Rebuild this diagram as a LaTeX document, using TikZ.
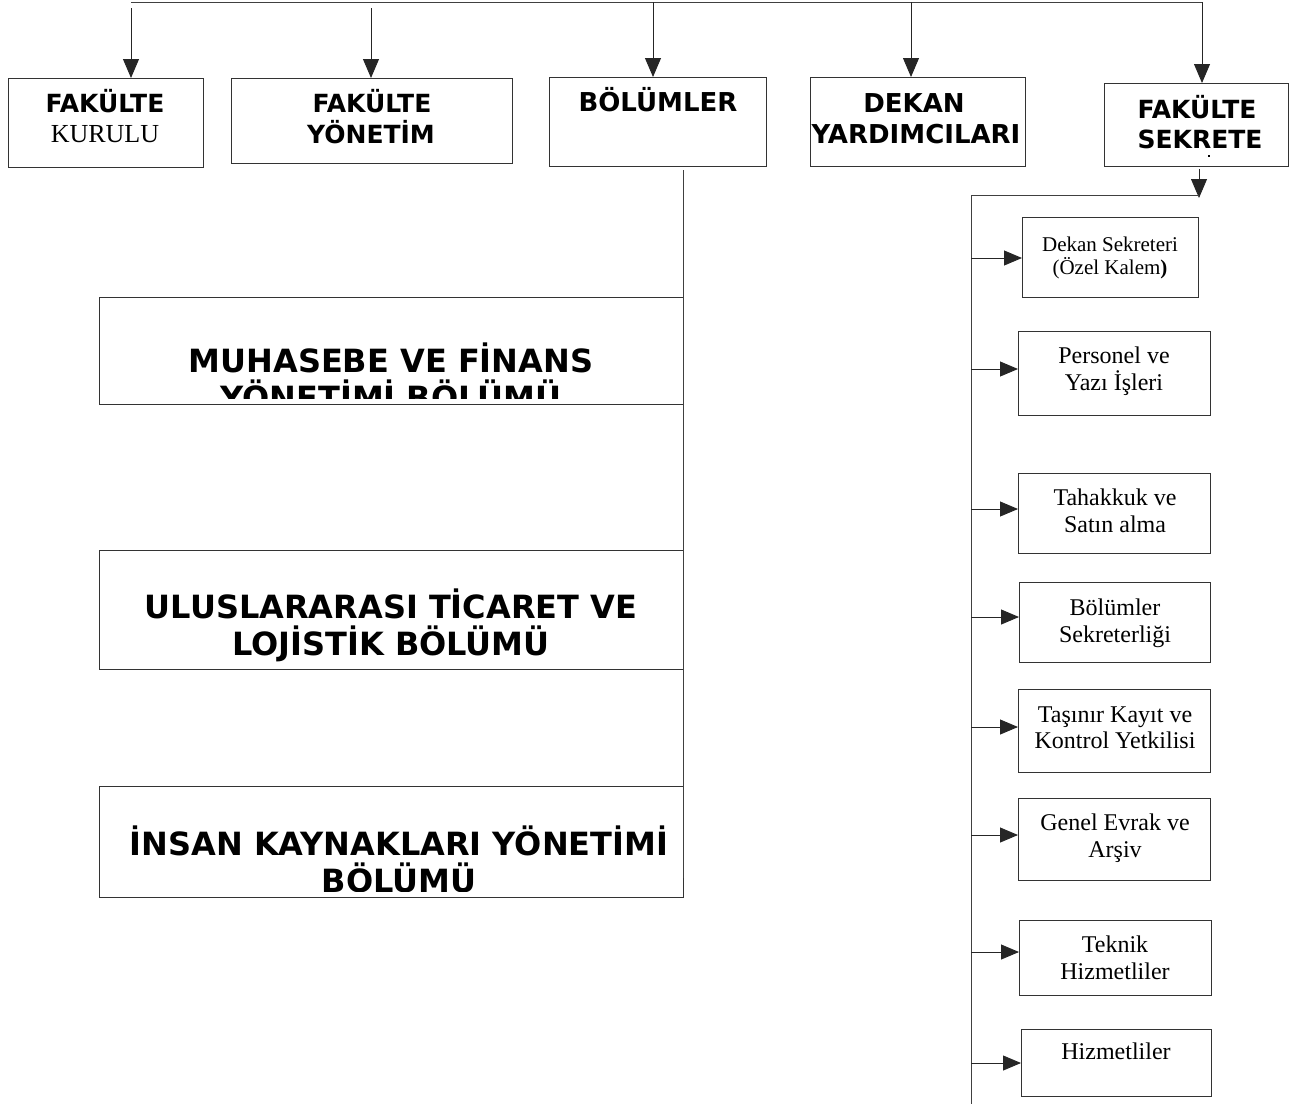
\documentclass[tikz,border=0pt]{standalone}
\usepackage{fontspec}
\setmainfont{Liberation Serif}
\newfontfamily\dvs{DejaVu Sans}
\usetikzlibrary{arrows.meta}
\begin{document}
\begin{tikzpicture}[x=1pt,y=-1pt,
  box/.style={draw=black!80, line width=1pt, inner sep=0pt, anchor=north west},
  arr/.style={draw=black!85, line width=0.9pt, -{Triangle[length=19pt,width=16pt]}},
  arrr/.style={draw=black!85, line width=0.9pt, -{Triangle[length=18pt,width=15pt]}},
  ln/.style={draw=black!75, line width=1pt},
  bigtxt/.style={font=\dvs\bfseries\fontsize{32}{37}\selectfont, anchor=base, inner sep=0pt},
  toptxt/.style={font=\dvs\bfseries\fontsize{25}{30}\selectfont, anchor=base, inner sep=0pt},
  toptxtb/.style={font=\dvs\bfseries\fontsize{26}{30}\selectfont, anchor=base, inner sep=0pt},
  sertop/.style={font=\fontsize{26}{30}\selectfont, anchor=base, inner sep=0pt},
  sertxt/.style={font=\fontsize{24}{27}\selectfont, anchor=base, inner sep=0pt},
  sersmall/.style={font=\fontsize{21}{24}\selectfont, anchor=base, inner sep=0pt}]
\useasboundingbox (0,0) rectangle (1289,1106);

% top boxes
\node[box, minimum width=195pt, minimum height=89pt] (kurulu) at (8,78) {};
\node[box, minimum width=281pt, minimum height=85pt] (yonetim) at (231,78) {};
\node[box, minimum width=217pt, minimum height=89pt] (bolum) at (549,77) {};
\node[box, minimum width=215pt, minimum height=89pt] (dekan) at (810,77) {};
\node[box, minimum width=184pt, minimum height=83pt] (sekr) at (1104,83) {};

\node[toptxt] (t1a) at (105,112) {FAKÜLTE};
\node[sertop] (t1b) at (105,142) {KURULU};
\node[toptxt] (t2a) at (372,112) {FAKÜLTE};
\node[toptxt] (t2b) at (371,143) {YÖNETİM};
\node[toptxtb] (t3a) at (658,111) {BÖLÜMLER};
\node[toptxtb] (t4a) at (914,112) {DEKAN};
\node[toptxtb] (t4b) at (916,143) {YARDIMCILARI};
\node[toptxt] (t5a) at (1197,118) {FAKÜLTE};
\node[toptxt] (t5b) at (1200,148) {SEKRETE};
\fill (1208,155) rectangle (1210,157);

% top connectors
\coordinate (topL) at (131,2);
\coordinate (topR) at (1202,2);
\draw[ln] (topL) -- (topR);
\coordinate (a1) at (131,8);
\coordinate (a2) at (371,8);
\coordinate (a3) at (653,2);
\coordinate (a4) at (911,2);
\draw[arr] (a1) -- (131,0 |- kurulu.north);
\draw[arr] (a2) -- (371,0 |- yonetim.north);
\draw[arr] (a3) -- (653,0 |- bolum.north);
\draw[arr] (a4) -- (911,0 |- dekan.north);
\draw[arr] (topR) -- (1202,0 |- sekr.north);

% departments
\node[box, minimum width=584pt, minimum height=107pt] (muh) at (99,297) {};
\node[box, minimum width=584pt, minimum height=119pt] (ulus) at (99,550) {};
\node[box, minimum width=584pt, minimum height=111pt] (insan) at (99,786) {};

\begin{scope}
\clip (99,297) rectangle (683,398);
\node[bigtxt] (m1) at (391,372) {MUHASEBE VE FİNANS};
\node[bigtxt] (m2) at (391,409) {YÖNETİMİ BÖLÜMÜ};
\end{scope}
\node[bigtxt] (u1) at (391,618) {ULUSLARARASI TİCARET VE};
\node[bigtxt] (u2) at (391,655) {LOJİSTİK BÖLÜMÜ};
\begin{scope}
\clip (99,786) rectangle (683,891);
\node[bigtxt] (i1) at (399,855) {İNSAN KAYNAKLARI YÖNETİMİ};
\node[bigtxt] (i2) at (399,892) {BÖLÜMÜ};
\end{scope}

\coordinate (bolTop) at (683,170);
\coordinate (bolBot) at (683,878);
\draw[ln] (bolTop) -- (bolBot);

% secretariat column
\coordinate (sA) at (1199,169);
\coordinate (sB) at (1199,198);
\draw[arr] (sA) -- (sB);
\coordinate (bus) at (971,195);
\coordinate (busend) at (971,1104);
\draw[ln] (bus) -- (1199,195);
\draw[ln] (bus) -- (busend);

\node[box, minimum width=176pt, minimum height=80pt] (dsek) at (1022,217) {};
\node[box, minimum width=192pt, minimum height=84pt] (pers) at (1018,331) {};
\node[box, minimum width=192pt, minimum height=80pt] (tah) at (1018,473) {};
\node[box, minimum width=191pt, minimum height=80pt] (bsek) at (1019,582) {};
\node[box, minimum width=192pt, minimum height=83pt] (tas) at (1018,689) {};
\node[box, minimum width=192pt, minimum height=82pt] (gen) at (1018,798) {};
\node[box, minimum width=192pt, minimum height=75pt] (tek) at (1019,920) {};
\node[box, minimum width=190pt, minimum height=67pt] (hiz) at (1021,1029) {};

\node[sersmall] (d1) at (1110,251) {Dekan Sekreteri};
\node[sersmall] (d2) at (1110,274) {(Özel Kalem\textbf{)}};
\node[sertxt] (p1) at (1114,363) {Personel ve};
\node[sertxt] (p2) at (1114,390) {Yazı İşleri};
\node[sertxt] (h1) at (1115,505) {Tahakkuk ve};
\node[sertxt] (h2) at (1115,532) {Satın alma};
\node[sertxt] (b1) at (1115,615) {Bölümler};
\node[sertxt] (b2) at (1115,642) {Sekreterliği};
\node[sertxt] (k1) at (1115,722) {Taşınır Kayıt ve};
\node[sertxt] (k2) at (1115,748) {Kontrol Yetkilisi};
\node[sertxt] (g1) at (1115,830) {Genel Evrak ve};
\node[sertxt] (g2) at (1115,857) {Arşiv};
\node[sertxt] (e1) at (1115,952) {Teknik};
\node[sertxt] (e2) at (1115,979) {Hizmetliler};
\node[sertxt] (z1) at (1116,1059) {Hizmetliler};

\draw[arrr] (971,258) -- (971,258 -| dsek.west);
\draw[arrr] (971,369) -- (971,369 -| pers.west);
\draw[arrr] (971,509) -- (971,509 -| tah.west);
\draw[arrr] (971,617) -- (971,617 -| bsek.west);
\draw[arrr] (971,727) -- (971,727 -| tas.west);
\draw[arrr] (971,835) -- (971,835 -| gen.west);
\draw[arrr] (971,952) -- (971,952 -| tek.west);
\draw[arrr] (971,1063) -- (971,1063 -| hiz.west);
\end{tikzpicture}
\end{document}
